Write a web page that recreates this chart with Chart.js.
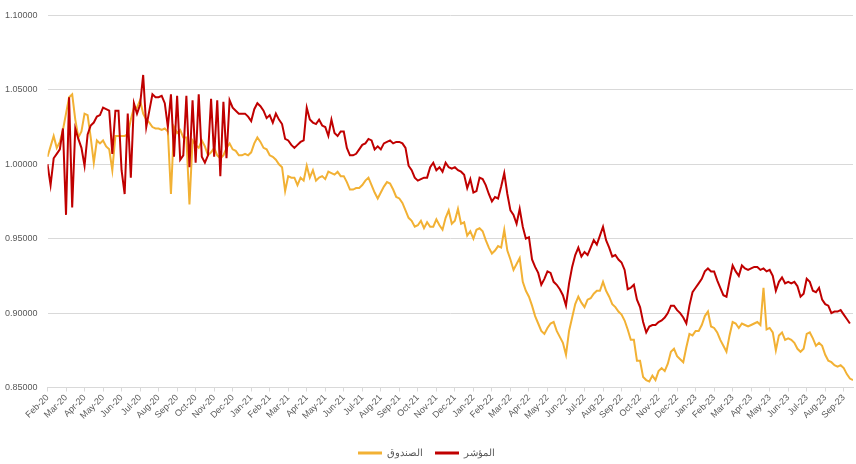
<!DOCTYPE html>
<html>
<head>
<meta charset="utf-8">
<script src="https://cdn.jsdelivr.net/npm/chart.js@4.4.1/dist/chart.umd.min.js"></script>
<style>
  body { margin: 0; background: #fff; }
  #wrap { width: 856px; height: 464px; }
</style>
</head>
<body>
<div id="wrap"><canvas id="fundChart" width="856" height="464"></canvas></div>
<script>
// month tick labels (one per month, first tick = start of data)
const months = [
  'Feb-20','Mar-20','Apr-20','May-20','Jun-20','Jul-20','Aug-20','Sep-20','Oct-20','Nov-20','Dec-20',
  'Jan-21','Feb-21','Mar-21','Apr-21','May-21','Jun-21','Jul-21','Aug-21','Sep-21','Oct-21','Nov-21','Dec-21',
  'Jan-22','Feb-22','Mar-22','Apr-22','May-22','Jun-22','Jul-22','Aug-22','Sep-22','Oct-22','Nov-22','Dec-22',
  'Jan-23','Feb-23','Mar-23','Apr-23','May-23','Jun-23','Jul-23','Aug-23','Sep-23'
];

// readings taken every 1/6 of a month (about 5 days)
const samplesPerMonth = 6;

// الصندوق (fund)
const fundValues = [
  1.005,1.012,1.019,1.011,1.015,1.023,1.034,1.045,1.047,1.030,1.018,1.022,1.034,1.033,1.018,1.001,1.016,1.014,
  1.016,1.012,1.010,0.996,1.019,1.019,1.019,1.019,1.020,1.030,1.038,1.038,1.043,1.034,1.030,1.028,1.025,1.024,
  1.024,1.023,1.024,1.022,0.980,1.025,1.021,1.023,1.018,1.018,0.973,1.016,1.013,1.011,1.016,1.012,1.006,1.008,
  1.011,1.006,1.004,1.006,1.011,1.014,1.010,1.009,1.006,1.006,1.007,1.006,1.008,1.014,1.018,1.015,1.011,1.010,
  1.006,1.005,1.003,1.000,0.998,0.982,0.992,0.991,0.991,0.986,0.991,0.989,0.999,0.991,0.996,0.989,0.991,0.992,
  0.990,0.995,0.994,0.993,0.995,0.992,0.992,0.988,0.983,0.983,0.984,0.984,0.986,0.989,0.991,0.986,0.981,0.977,
  0.981,0.985,0.988,0.987,0.983,0.978,0.977,0.974,0.969,0.964,0.962,0.958,0.959,0.962,0.957,0.961,0.958,0.958,
  0.963,0.959,0.956,0.964,0.969,0.960,0.962,0.970,0.960,0.961,0.952,0.955,0.950,0.956,0.957,0.955,0.949,0.944,
  0.940,0.942,0.945,0.944,0.956,0.942,0.936,0.929,0.933,0.937,0.921,0.915,0.911,0.905,0.898,0.893,0.888,0.886,
  0.890,0.893,0.894,0.888,0.884,0.880,0.872,0.888,0.897,0.906,0.911,0.907,0.904,0.909,0.910,0.913,0.915,0.915,
  0.921,0.915,0.911,0.906,0.904,0.901,0.899,0.895,0.889,0.882,0.882,0.868,0.868,0.857,0.855,0.854,0.858,0.855,
  0.861,0.863,0.861,0.866,0.874,0.876,0.871,0.869,0.867,0.877,0.886,0.885,0.888,0.888,0.892,0.898,0.901,0.891,
  0.890,0.887,0.882,0.878,0.874,0.885,0.894,0.893,0.890,0.893,0.892,0.891,0.892,0.893,0.894,0.892,0.917,0.889,
  0.890,0.887,0.875,0.885,0.887,0.882,0.883,0.882,0.880,0.876,0.874,0.876,0.886,0.887,0.883,0.878,0.880,0.878,
  0.872,0.868,0.867,0.865,0.864,0.865,0.863,0.859,0.856,0.855
];

// المؤشر (index)
const indexValues = [
  1.000,0.986,1.004,1.007,1.010,1.024,0.966,1.045,0.971,1.024,1.017,1.011,0.999,1.020,1.026,1.028,1.032,1.033,
  1.038,1.037,1.036,1.007,1.036,1.036,0.996,0.980,1.034,0.991,1.041,1.034,1.040,1.060,1.025,1.036,1.047,1.045,
  1.045,1.046,1.041,1.025,1.047,1.005,1.046,1.003,1.006,1.046,0.998,1.043,1.001,1.047,1.005,1.001,1.006,1.044,
  1.005,1.043,0.992,1.042,1.004,1.043,1.038,1.036,1.034,1.034,1.034,1.032,1.029,1.037,1.041,1.039,1.036,1.031,
  1.033,1.028,1.034,1.030,1.027,1.017,1.016,1.013,1.011,1.013,1.015,1.016,1.038,1.030,1.028,1.027,1.030,1.026,
  1.025,1.019,1.030,1.021,1.019,1.022,1.022,1.011,1.006,1.006,1.007,1.010,1.013,1.014,1.017,1.016,1.010,1.012,
  1.010,1.014,1.015,1.016,1.014,1.015,1.015,1.014,1.011,0.999,0.996,0.991,0.989,0.990,0.991,0.991,0.998,1.001,
  0.996,0.998,0.995,1.001,0.998,0.997,0.998,0.996,0.995,0.993,0.984,0.990,0.981,0.982,0.991,0.990,0.986,0.980,
  0.975,0.978,0.977,0.985,0.994,0.980,0.969,0.966,0.960,0.970,0.958,0.950,0.951,0.936,0.931,0.927,0.919,0.923,
  0.928,0.927,0.921,0.919,0.916,0.912,0.905,0.920,0.931,0.939,0.944,0.938,0.941,0.939,0.944,0.949,0.946,0.952,
  0.958,0.949,0.944,0.938,0.939,0.936,0.934,0.929,0.916,0.917,0.919,0.909,0.904,0.894,0.887,0.891,0.892,0.892,
  0.894,0.895,0.897,0.900,0.905,0.905,0.902,0.900,0.897,0.893,0.905,0.914,0.917,0.920,0.923,0.928,0.930,0.928,
  0.928,0.922,0.917,0.912,0.911,0.922,0.932,0.928,0.925,0.932,0.930,0.929,0.930,0.931,0.931,0.929,0.930,0.928,
  0.929,0.925,0.915,0.921,0.924,0.920,0.921,0.920,0.921,0.918,0.911,0.913,0.923,0.921,0.915,0.914,0.917,0.909,
  0.906,0.905,0.900,0.901,0.901,0.902,0.899,0.896,0.893
];

const yTicks = { min: 0.85, max: 1.10, step: 0.05 };

const FONT = "'Liberation Sans Narrow', 'Liberation Sans', Arial, sans-serif";
const TEXT = '#595959';
const GRID = '#d9d9d9';

function toPoints(values) {
    return values.map((v, i) => ({ x: i / samplesPerMonth, y: v }));
}

const ctx = document.getElementById('fundChart').getContext('2d');
const chart = new Chart(ctx, {
    type: 'line',
    data: {
        datasets: [{
            label: 'المؤشر',
            data: toPoints(indexValues),
            borderColor: '#C00000',
            backgroundColor: '#C00000',
            borderWidth: 2,
            pointRadius: 0,
            tension: 0
        },
        {
            label: 'الصندوق',
            data: toPoints(fundValues),
            borderColor: '#F2B134',
            backgroundColor: '#F2B134',
            borderWidth: 2,
            pointRadius: 0,
            tension: 0
        }]
    },
    options: {
        responsive: false,
        animation: false,
        // negative bottom padding pushes the legend row a little lower
        layout: { padding: { left: 0, right: 3, top: 15, bottom: -4 } },
        plugins: {
            tooltip: { enabled: false },
            legend: {
                display: true,
                position: 'bottom',
                reverse: true, // fund first, index drawn on top
                labels: {
                    boxWidth: 24,
                    boxHeight: 3,
                    padding: 12,
                    color: TEXT,
                    font: { family: FONT, size: 10 },
                    generateLabels: function(c) {
                        return Chart.defaults.plugins.legend.labels.generateLabels(c)
                            .map(l => Object.assign(l, { lineWidth: 0 }));
                    }
                }
            }
        },
        scales: {
            x: {
                type: 'linear',
                min: 0,
                max: 43.5,
                afterBuildTicks: function(scale) {
                    scale.ticks = months.map((m, i) => ({ value: i }));
                },
                afterFit: function(scale) { scale.height = 48.5; },
                grid: {
                    drawOnChartArea: false,
                    color: GRID,
                    tickLength: 4
                },
                border: { color: GRID, width: 1 },
                ticks: {
                    autoSkip: false,
                    minRotation: 45,
                    maxRotation: 45,
                    padding: 1,
                    color: TEXT,
                    font: { family: FONT, size: 9 },
                    callback: function(value) {
                        return months[Math.round(value)] || '';
                    }
                }
            },
            y: {
                min: yTicks.min,
                max: yTicks.max,
                afterFit: function(scale) { scale.width = 47.5; },
                grid: { color: GRID, lineWidth: 1, drawTicks: false },
                border: { display: false },
                ticks: {
                    stepSize: yTicks.step,
                    padding: 10,
                    color: TEXT,
                    font: { family: FONT, size: 9 },
                    callback: function(value) {
                        return value.toFixed(5);
                    }
                }
            }
        }
    }
});
</script>
</body>
</html>
